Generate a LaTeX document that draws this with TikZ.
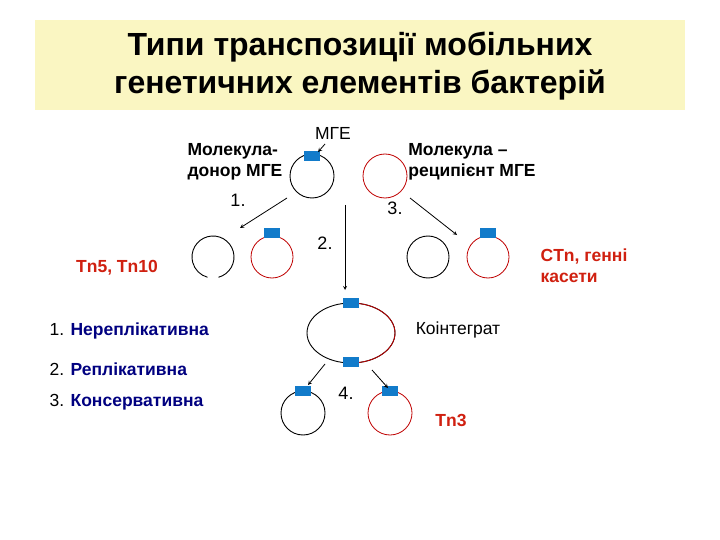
\documentclass[tikz,border=0pt]{standalone}
\usepackage{fontspec}
\setmainfont{Liberation Sans}
\begin{document}
\begin{tikzpicture}[x=1pt,y=-1pt,
 lab/.style={font=\bfseries\fontsize{17.5}{21}\selectfont,align=left},
 num/.style={font=\fontsize{18}{20}\selectfont},
 blk/.style={draw=black,line width=0.9pt},
 rd/.style={draw=red!75!black,line width=0.8pt},
 mge/.style={fill=cyan!60!blue,draw=none},
 arr/.style={->,>=stealth,line width=0.8pt}]
\definecolor{ttl}{HTML}{FAF6C2}
\definecolor{dred}{HTML}{D02010}
\useasboundingbox (0,0) rectangle (720,540);
\fill[white] (0,0) rectangle (720,540);
\node[fill=ttl,minimum width=650,minimum height=90,anchor=north west,inner sep=0] (tbox) at (35,20) {};
\node[font=\bfseries\fontsize{32}{38}\selectfont,align=center] (title) at (360,66) {Типи транспозиції мобільних\\генетичних елементів бактерій};
% circles
\draw[blk] (312,176) circle (22);
\draw[rd] (385,176) circle (22);
\fill[mge] (304,151) rectangle (320,161);
\node (c1) at (312,176) {}; \node (c2) at (385,176) {};
\node[lab] (mge) at (333,133) {\mdseries МГЕ};
\coordinate (mgeA) at (325,144);
\draw[arr] (mgeA) -- (318,152);
\node[lab] (don) at (235,162) {Молекула-\\донор МГЕ};
\node[lab] (rec) at (472,162) {Молекула –\\реципієнт МГЕ};
% step1
\draw[blk] (213,257)++(75:21) arc (75:-255:21);
\draw[rd] (272,257) circle (21);
\fill[mge] (264,228) rectangle (280,238);
\draw[blk] (428,257) circle (21);
\draw[rd] (488,257) circle (21);
\fill[mge] (480,228) rectangle (496,238);
\node[num] (n1) at (238,200) {1.};
\node[num] (n2) at (325,243) {2.};
\node[num] (n3) at (395,208) {3.};
\coordinate (a1s) at (287,198); \coordinate (a1e) at (240,228);
\coordinate (a2s) at (345,205); \coordinate (a2e) at (345,290);
\coordinate (a3s) at (410,198); \coordinate (a3e) at (457,235);
\draw[arr] (a1s) -- (a1e);
\draw[arr] (a2s) -- (a2e);
\draw[arr] (a3s) -- (a3e);
\node[lab,text=dred] (tn5) at (117,268) {Tn5, Tn10};
\node[lab,text=dred] (ctn) at (584,266) {CTn, генні\\касети};
% cointegrate
\draw[blk] (351,333) ellipse (44 and 30);
\draw[rd] (351,303) arc (-90:90:44 and 30);
\fill[mge] (343,298) rectangle (359,308);
\fill[mge] (343,357) rectangle (359,367);
\node[lab] (koi) at (458,330) {\mdseries Коінтеграт};
\node[lab,anchor=west] (t1) at (46,331) {\mdseries 1. \bfseries\color{blue!50!black}Нереплікативна};
\node[lab,anchor=west] (t2) at (46,369) {\mdseries 2. \bfseries\color{blue!50!black}Реплікативна};
\node[lab,anchor=west] (t3) at (46,402) {\mdseries 3. \bfseries\color{blue!50!black}Консервативна};
% bottom
\draw[blk] (303,413) circle (22);
\fill[mge] (295,386) rectangle (311,396);
\draw[rd] (390,413) circle (22);
\fill[mge] (382,386) rectangle (398,396);
\coordinate (a4s) at (325,364); \coordinate (a4e) at (308,385);
\coordinate (a5s) at (372,370); \coordinate (a5e) at (388,388);
\draw[arr] (a4s) -- (a4e);
\draw[arr] (a5s) -- (a5e);
\node[num] (n4) at (346,393) {4.};
\node[lab,text=dred] (tn3) at (451,420) {Tn3};
\end{tikzpicture}
\end{document}
